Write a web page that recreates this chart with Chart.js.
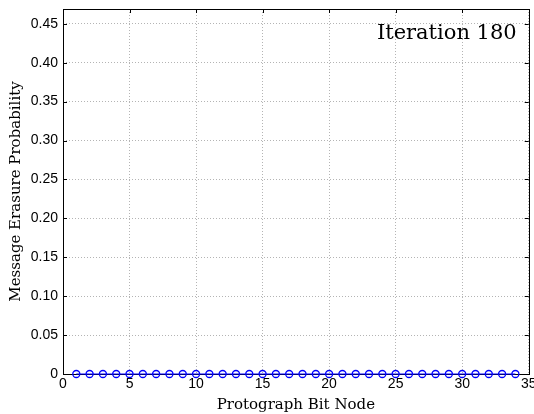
<!DOCTYPE html>
<html>
<head>
<meta charset="utf-8">
<script src="https://cdn.jsdelivr.net/npm/chart.js@4/dist/chart.umd.min.js"></script>
<style>
  html, body { margin: 0; padding: 0; background: #fff; }
  #wrap { width: 534px; height: 414px; }
</style>
</head>
<body>
<div id="wrap"><canvas id="graf"></canvas></div>
<script>
// bit nodes and erasure probability at iteration 180
const nodes = [1, 2, 3, 4, 5, 6, 7, 8, 9, 10, 11, 12, 13, 14, 15, 16, 17,
  18, 19, 20, 21, 22, 23, 24, 25, 26, 27, 28, 29, 30, 31, 32, 33, 34];
const erasure = [0, 0, 0, 0, 0, 0, 0, 0, 0, 0, 0, 0, 0, 0, 0, 0, 0,
  0, 0, 0, 0, 0, 0, 0, 0, 0, 0, 0, 0, 0, 0, 0, 0, 0];
const xTicks = [0, 5, 10, 15, 20, 25, 30, 35];
const yTicks = [0, 0.05, 0.10, 0.15, 0.20, 0.25, 0.30, 0.35, 0.40, 0.45];

const serif = "'DejaVu Serif', serif";
const sans = "'Liberation Sans', sans-serif";

// moldura e marcas internas (por baixo dos pontos), texto da iteração
const frame = {
  id: "frame",
  beforeDatasetsDraw(chart) {
    const { ctx, chartArea: a, scales } = chart;
    ctx.save();
    ctx.strokeStyle = "#000";
    ctx.lineWidth = 1;
    ctx.beginPath();
    yTicks.forEach(v => {
      const y = Math.round(scales.y.getPixelForValue(v)) + 0.5;
      ctx.moveTo(a.left, y); ctx.lineTo(a.left + 4, y);
      ctx.moveTo(a.right, y); ctx.lineTo(a.right - 4, y);
    });
    xTicks.forEach(v => {
      const x = Math.round(scales.x.getPixelForValue(v)) + 0.5;
      // os círculos escondem a marca de baixo
      if (!nodes.includes(v)) { ctx.moveTo(x, a.bottom); ctx.lineTo(x, a.bottom - 4); }
      ctx.moveTo(x, a.top); ctx.lineTo(x, a.top + 4);
    });
    ctx.stroke();
    ctx.strokeRect(Math.round(a.left) + 0.5, Math.round(a.top) + 0.5,
      Math.round(a.right - a.left), Math.round(a.bottom - a.top));
    ctx.restore();
  },
  afterDraw(chart) {
    const { ctx, chartArea: a } = chart;
    ctx.save();
    ctx.font = "21px " + serif;
    ctx.fillStyle = "#000";
    ctx.textAlign = "right";
    ctx.textBaseline = "middle";
    ctx.fillText("Iteration 180", a.right - 12, 34);
    ctx.restore();
  }
};

new Chart(document.getElementById("graf"), {
  type: "line",
  data: {
    datasets: [{
      data: nodes.map((n, i) => ({ x: n, y: erasure[i] })),
      borderColor: "#0000ff",
      borderWidth: 1,
      pointBorderColor: "#0000ff",
      pointBackgroundColor: "rgba(255,255,255,0)",
      pointBorderWidth: 1.3,
      pointRadius: 3.5,
      clip: false
    }]
  },
  options: {
    animation: false,
    responsive: true,
    maintainAspectRatio: false,
    layout: { padding: { top: 9, right: 5, left: 0, bottom: 0 } },
    plugins: { legend: { display: false }, tooltip: { enabled: false } },
    scales: {
      x: {
        type: "linear",
        min: 0,
        max: 35,
        afterBuildTicks: s => { s.ticks = xTicks.map(v => ({ value: v })); },
        afterFit: s => { s.height = 40; s.paddingLeft = 0; s.paddingRight = 0; },
        grid: { color: "#b4b4b4", drawTicks: false },
        border: { display: false, dash: [1, 2] },
        ticks: { color: "#000", font: { family: sans, size: 14 }, padding: 2, maxRotation: 0 },
        title: { display: true, text: "Protograph Bit Node", color: "#000",
                 font: { family: serif, size: 15 }, padding: { top: 0, bottom: 0 } }
      },
      y: {
        min: 0,
        max: 0.469,
        afterBuildTicks: s => { s.ticks = yTicks.map(v => ({ value: v })); },
        afterFit: s => { s.width = 63; s.paddingTop = 0; s.paddingBottom = 0; },
        grid: { color: "#b4b4b4", drawTicks: false },
        border: { display: false, dash: [1, 2] },
        ticks: {
          color: "#000", font: { family: sans, size: 14 }, padding: 5,
          callback: v => v === 0 ? "0" : v.toFixed(2)
        },
        title: { display: true, text: "Message Erasure Probability", color: "#000",
                 font: { family: serif, size: 15 }, padding: { top: 7, bottom: 2 } }
      }
    }
  },
  plugins: [frame]
});
</script>
</body>
</html>
